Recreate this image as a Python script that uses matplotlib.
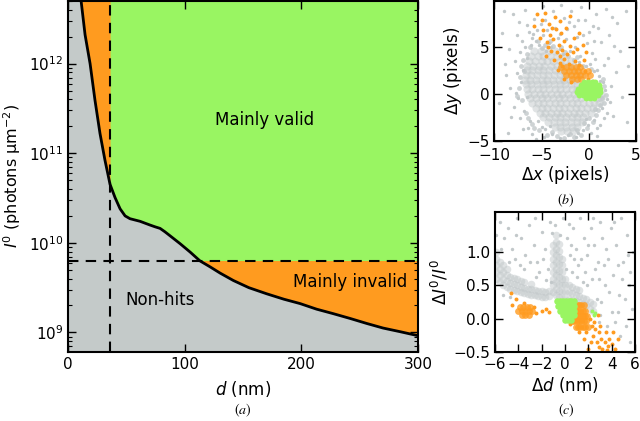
import numpy as np
import matplotlib
matplotlib.use("Agg")
import matplotlib.pyplot as plt

# ---------------- data ----------------
# panel (a): threshold curve I0(d)
d_nm = [10.5, 14.6, 18.9, 23.1, 27.4, 31.7, 36, 40.3, 44.6, 48.9, 53.1, 61.7, 70.3, 74.6,
        78.9, 83, 87.4, 96, 104.6, 113, 121.7, 130.3, 141.7, 155, 170.3, 185, 198.9, 213,
        227.4, 242, 256, 270, 284.6, 300]
I0 = [6.0e12, 2.1e12, 1.0e12, 3.9e11, 1.66e11, 8.3e10, 4.5e10, 3.2e10, 2.4e10, 2.0e10,
      1.86e10, 1.74e10, 1.58e10, 1.51e10, 1.45e10, 1.33e10, 1.2e10, 9.8e9, 7.9e9, 6.3e9,
      5.4e9, 4.6e9, 3.8e9, 3.16e9, 2.7e9, 2.35e9, 2.1e9, 1.82e9, 1.62e9, 1.43e9, 1.26e9,
      1.12e9, 1.02e9, 9.2e8]
d_cut = 36.0
I_cut = 6.35e9
region_labels = ["Mainly valid", "Mainly invalid", "Non-hits"]

# panel (b): position offsets (pixels); dense parts given as rows {y: [x, ...]}
b_gray_core_rows = {
    4.5: [-5.8, -5.1, -4.3, -3.6],
    4.0: [-6.1, -5.4, -4.8, -4.1, -3.4, -2.8],
    3.5: [-6.3, -5.7, -5.0, -4.4, -3.8, -3.1, -2.5, -1.9],
    3.0: [-6.5, -5.9, -5.3, -4.7, -4.0, -3.4, -2.8, -2.2, -1.6],
    2.5: [-6.6, -6.0, -5.4, -4.8, -4.2, -3.6, -3.0, -2.4, -1.8, -1.2],
    2.0: [-6.7, -6.1, -5.5, -4.9, -4.3, -3.7, -3.1, -2.5, -1.9, -1.3, -0.7],
    1.5: [-6.8, -6.2, -5.6, -5.0, -4.4, -3.8, -3.2, -2.6, -2.0, -1.4],
    1.0: [-6.7, -6.1, -5.5, -4.9, -4.3, -3.7, -3.1, -2.5, -1.9, -1.3],
    0.5: [-6.6, -6.0, -5.4, -4.8, -4.2, -3.6, -3.0, -2.4, -1.8, -1.2],
    0.0: [-6.4, -5.8, -5.2, -4.6, -4.0, -3.4, -2.8, -2.2, -1.6, 1.3],
    -0.5: [-6.2, -5.6, -5.0, -4.4, -3.8, -3.2, -2.6, -2.0, -1.4, -0.8, 0.9, 1.3],
    -1.0: [-6.0, -5.4, -4.8, -4.2, -3.6, -3.0, -2.4, -1.8, -1.2, -0.6, 0.0, 0.6, 1.1],
    -1.5: [-5.6, -5.0, -4.4, -3.8, -3.2, -2.6, -2.0, -1.4, -0.8, -0.2, 0.4],
    -2.0: [-5.2, -4.6, -4.0, -3.4, -2.8, -2.2, -1.6, -1.0, -0.4, 0.2],
    -2.5: [-4.8, -4.2, -3.6, -3.0, -2.4, -1.8, -1.2, -0.6],
    -3.0: [-4.3, -3.7, -3.1, -2.5, -1.9, -1.3, -0.7],
    -3.5: [-3.6, -3.0, -2.4, -1.8, -1.2],
    -4.0: [-2.9, -2.3, -1.7],
}
b_gray_halo = [(-7.2,3.0),(-7.3,1.8),(-7.4,0.6),(-7.1,-0.7),(-6.7,-2.0),(-6.0,-3.2),(-5.3,-3.9),
    (-4.4,-4.4),(-3.4,-4.5),(-2.6,-4.7),(-1.6,-4.6),(-0.8,-4.4),(-0.2,-3.6),(0.4,-3.0),(0.8,-2.3),
    (1.0,-1.7),(1.6,-1.0),(1.8,-0.1),(1.6,0.8),(1.5,1.6),(-6.6,4.2),(-6.2,5.0),(-5.4,5.6),(-4.6,5.2),
    (-3.8,5.1),(-2.9,5.0),(-2.2,4.0),(-1.3,3.9),(-0.6,3.0),(0.2,2.6),(-6.9,2.4),(-7.6,-0.2),
    (-5.8,-3.6),(-3.9,-4.1),(-2.0,-4.3),(-1.2,-3.9),(0.0,-2.6),(0.7,-1.6),(1.4,-0.5),(-5.0,4.9),
    (-2.5,4.4),(-7.0,3.6),(-6.4,-2.6),(-0.5,-3.1),(1.2,-1.2),(-1.6,3.6),(-4.1,5.6)]
b_gray_sparse = [(-9.2,6.5),(-8.5,4.8),(-8.8,2.0),(-9.5,-1.0),(-8.0,8.5),(-7.6,6.2),(-7.8,3.5),(-7.2,1.2),
    (-7.5,-0.5),(-8.2,-2.5),(-7.0,-3.8),(-6.8,8.9),(-6.5,7.3),(-6.8,5.0),(-6.6,3.8),(-7.0,2.5),(-6.9,-1.8),
    (-6.2,-2.9),(-6.0,-4.3),(-5.8,8.0),(-5.5,6.8),(-6.0,5.9),(-5.3,5.2),(-4.8,9.3),(-4.6,7.8),(-4.9,6.2),
    (-4.2,5.4),(-4.5,4.6),(-5.0,-3.5),(-4.7,-4.6),(-3.8,8.8),(-3.6,7.0),(-3.9,-4.3),(-2.9,9.4),(-2.6,8.1),
    (-3.0,6.4),(-2.4,5.8),(-2.0,4.6),(-2.7,4.2),(-3.1,-4.7),(-2.2,-4.4),(-1.9,8.8),(-1.6,7.2),(-1.2,6.0),
    (-1.5,5.0),(-0.9,4.0),(-1.4,-4.6),(-0.6,-3.9),(-0.8,9.2),(-0.4,7.9),(0.0,6.6),(-0.2,5.4),(0.3,4.3),
    (0.1,3.2),(0.5,-2.8),(0.2,-4.2),(0.8,8.5),(1.0,7.0),(1.3,5.5),(0.9,2.5),(1.5,1.2),(1.4,-1.5),(1.2,-3.3),
    (1.8,9.0),(2.1,6.2),(2.0,3.8),(2.4,0.8),(2.2,-0.9),(2.6,-2.4),(3.0,7.5),(3.3,4.5),(2.9,2.3),(3.5,-0.3),
    (3.9,8.8),(4.2,2.9),(4.0,-3.0),(-9.0,8.8),(-8.6,-4.2),(-5.6,-4.8),(-7.3,4.4),(-8.3,0.6),(-7.9,-1.4),
    (-6.3,6.6),(-5.1,7.4),(-3.3,5.9),(-2.3,6.9),(-0.6,6.3),(0.5,5.6),(1.6,3.1),(1.9,-2.0),(0.9,-4.5),
    (-7.4,7.6),(-8.9,3.2),(-6.4,-3.6),(-4.1,-3.4),(1.1,1.9),(0.7,3.7),(-1.1,-4.2),(2.7,5.1),
    (-7.1,5.6),(-7.7,0.1),(-7.3,-2.6),(-6.1,5.2),(-5.6,5.6),(-4.0,5.0),(-3.1,4.8),(-1.0,3.4),(-0.3,2.9),
    (0.6,2.4),(1.2,1.4),(1.7,0.4),(1.9,-0.6),(1.6,-2.6),(0.9,-3.6),(-0.1,-3.3),(-0.3,-2.7),(-4.6,-3.8),
    (-5.4,-2.9),(-6.6,-0.4),(-7.6,2.2),(-5.9,6.4),(-4.4,6.8),(-2.1,7.6),(-1.1,7.9),(0.4,7.2),(2.5,8.2)]
b_orange_rows = {
    2.8: [-2.9, -2.4, -1.9, -1.4, -0.9],
    2.4: [-2.6, -2.1, -1.6, -1.1, -0.6, -0.1],
    2.0: [-2.4, -1.9, -1.4, -0.9, -0.4, 0.1],
    1.6: [-1.8, -1.3, -0.8],
}
b_orange = [(-5.5,8.5),(-5.0,7.9),(-4.6,8.6),(-4.2,7.4),(-3.6,8.2),(-3.1,7.7),(-4.8,6.8),(-4.1,6.3),
    (-3.5,6.9),(-2.9,6.5),(-2.4,7.0),(-5.2,5.9),(-4.4,5.5),(-3.8,5.8),(-3.2,5.2),(-2.6,5.6),(-2.0,5.1),
    (-1.6,5.9),(-4.0,4.6),(-3.4,4.4),(-2.8,4.7),(-2.3,4.2),(-1.7,4.4),(-1.2,4.8),(-3.7,3.6),(-3.1,3.3),
    (-2.6,3.7),(-2.1,3.2),(-1.5,3.5),(-1.0,3.1),(-0.5,3.6),(-3.3,2.5),(-0.4,2.4),(-2.6,1.6),
    (-0.1,1.6),(0.4,1.4),(-1.9,1.2),(0.7,1.2),(-4.5,4.0),(-5.8,7.2),(-1.0,6.5),(-0.6,5.2),
    (-0.3,4.4),(-2.0,8.3),(-2.8,2.9),(-3.0,4.0),(-4.3,5.0),(-3.9,7.0)]
b_green_rows = {
    1.25: [-0.5, -0.1, 0.3, 0.7],
    0.9: [-0.8, -0.4, 0.0, 0.4, 0.8, 1.1],
    0.55: [-1.1, -0.7, -0.3, 0.1, 0.5, 0.9, 1.2],
    0.2: [-1.2, -0.8, -0.4, 0.0, 0.4, 0.8, 1.2],
    -0.15: [-1.0, -0.6, -0.2, 0.2, 0.6, 1.0],
    -0.5: [-0.3, 0.1, 0.5],
}

# panel (c): size / intensity errors; dense parts given as columns {x: [y, ...]}
c_gray_core_cols = {
    -5.9: [0.6, 0.7, 0.8, 0.9, 1.0], -5.6: [0.55, 0.65, 0.75, 0.85], -5.3: [0.5, 0.6, 0.7, 0.8],
    -5.0: [0.48, 0.57, 0.66, 0.75], -4.7: [0.45, 0.54, 0.63], -4.4: [0.43, 0.52, 0.61],
    -4.1: [0.41, 0.5, 0.59], -3.8: [0.4, 0.48, 0.57], -3.5: [0.38, 0.46, 0.55], -3.2: [0.37, 0.45],
    -2.9: [0.36, 0.44, 0.52], -2.6: [0.35, 0.43], -2.3: [0.34, 0.42], -2.0: [0.33, 0.41],
    -1.7: [0.33, 0.4], -1.4: [0.34, 0.42],
    -1.0: [0.4, 0.5, 0.6, 0.7, 0.8, 0.9, 1.0, 1.1],
    -0.75: [0.35, 0.45, 0.55, 0.65, 0.75, 0.85, 0.95, 1.05, 1.15, 1.25],
    -0.5: [0.32, 0.42, 0.52, 0.62, 0.72, 0.82, 0.92, 1.02, 1.12],
    -0.25: [0.3, 0.4, 0.5, 0.6, 0.7, 0.8, 0.9], 0.0: [0.3, 0.4, 0.5, 0.6],
    0.3: [0.3, 0.4, 0.5], 0.6: [0.28, 0.38, 0.48], 0.9: [0.27, 0.36, 0.45], 1.2: [0.25, 0.34, 0.43],
    1.5: [0.22, 0.31], 1.8: [0.2, 0.29], 2.1: [0.15, 0.25], 2.4: [0.12, 0.22],
}
c_gray_sparse = [(-5.6,1.45),(-5.2,1.2),(-4.9,1.35),(-4.5,1.05),(-4.1,1.5),(-3.8,1.2),(-3.4,0.95),
    (-3.1,1.4),(-2.7,1.1),(-2.4,0.85),(-2.0,1.3),(-1.7,1.05),(-1.5,0.75),(-1.3,1.45),(-5.3,0.35),
    (-4.7,0.32),(-4.3,0.9),(-3.5,0.75),(-2.2,0.7),(-1.2,0.55),(-0.2,1.5),(0.2,1.2),(0.4,0.95),(0.1,0.75),
    (0.7,1.35),(0.9,1.05),(1.1,0.8),(1.3,1.5),(1.6,1.2),(1.9,0.95),(1.7,0.7),(2.2,1.35),(2.5,1.1),
    (2.3,0.6),(2.8,0.85),(3.0,1.45),(3.2,1.2),(3.4,0.5),(3.1,0.25),(3.7,0.9),(3.9,1.35),(4.1,0.65),
    (4.4,1.1),(4.6,0.35),(4.8,1.5),(5.0,0.85),(5.3,1.25),(5.5,0.5),(5.7,0.15),(5.2,-0.1),(4.7,-0.25),
    (5.8,1.0),(4.0,0.1),(3.6,-0.1),(2.7,0.3),(1.4,0.9),(0.6,0.7),(-0.9,1.4),(-2.6,1.5),(-4.2,1.25),
    (-5.9,1.25),(4.3,-0.05),(5.6,-0.35),(2.9,-0.05),(-0.4,1.25),(0.3,1.42),(1.9,0.5),(2.6,0.75),
    (3.5,1.05),(4.9,0.6),(5.4,0.95),(-3.0,0.85),(-1.9,0.9),(-4.8,0.85),(-5.5,1.05),(-3.9,0.8),
    (-2.5,0.62),(-1.6,0.58),(-1.1,1.28),(0.5,1.1),(1.0,0.62),(1.5,0.55),(2.0,1.1),(2.4,1.5),(2.9,0.6),
    (3.3,0.8),(3.8,0.4),(4.2,1.45),(4.5,0.8),(5.1,0.3),(5.6,0.7),(3.0,0.05),(4.5,0.1),(0.8,0.9)]
c_orange_rows = {
    0.2: [0.8, 1.0, 1.2, 1.4, 1.6],
    0.12: [0.7, 0.9, 1.1, 1.3, 1.5, 1.7],
    0.04: [0.7, 0.9, 1.1, 1.3, 1.5, 1.7, 1.9],
    -0.04: [0.6, 0.8, 1.0, 1.2, 1.4, 1.6, 1.8],
    -0.12: [0.9, 1.1, 1.3, 1.5, 1.7, 2.0],
    0.18: [-3.9, -3.6, -3.3, -3.0],
    0.11: [-4.0, -3.7, -3.4, -3.1, -2.8],
    0.05: [-3.7, -3.4, -3.1],
}
c_orange = [(-4.2,0.3),(-4.5,0.2),(-2.5,0.08),(-2.0,0.12),(-1.6,0.15),(-1.4,0.1),(-4.6,0.38),
    (-3.5,0.23),(-2.7,0.17),(1.2,-0.2),(2.1,0.0),(2.3,-0.1),(1.8,-0.2),
    (2.6,-0.15),(2.4,-0.25),(2.9,-0.2),(3.1,-0.3),(2.7,-0.35),(3.4,-0.35),(3.7,-0.4),(4.0,-0.38),
    (4.3,-0.45),(3.2,-0.45),(2.2,-0.35),(3.8,-0.3),(4.5,-0.3),(2.0,-0.45),(3.5,-0.2),(2.8,0.05),
    (0.4,-0.08),(2.5,-0.05),(3.0,-0.1),(1.6,-0.3),(4.1,-0.2),(2.9,-0.42),(3.6,-0.47)]
c_green_rows = {
    0.26: [-0.7, -0.45, -0.2, 0.05, 0.3, 0.55, 0.75],
    0.19: [-0.6, -0.35, -0.1, 0.15, 0.4, 0.65, 0.8],
    0.12: [-0.4, -0.15, 0.1, 0.35, 0.6, 0.8],
    0.05: [-0.2, 0.05, 0.3, 0.55, 0.75],
    -0.02: [0.0, 0.25, 0.5],
}
c_green = [(2.3, 0.12), (2.6, 0.08), (2.45, 0.05)]

# ---------------- helpers ----------------
def rows_xy(rows):
    return [(x, y) for y, xs in rows.items() for x in xs]

def cols_xy(cols):
    return [(x, y) for x, ys in cols.items() for y in ys]

# ---------------- style ----------------
GRAY_BG = "#c4cac9"
GREEN = "#99f562"
ORANGE = "#ff9b1f"
PT_GRAY = "#c2c8ca"

plt.rcParams["font.family"] = ["DejaVu Sans"]
plt.rcParams["mathtext.fontset"] = "dejavusans"

fig = plt.figure(figsize=(6.4, 4.21), dpi=100)

def style_axes(ax):
    for s in ax.spines.values():
        s.set_linewidth(1.5)
    ax.tick_params(which="both", direction="in", top=True, right=True, labelsize=11)
    ax.tick_params(which="major", length=6, width=1)
    ax.tick_params(which="minor", length=3, width=0.8)

# ---- panel (a)
ax = fig.add_axes([0.1063, 0.1646, 0.547, 0.833])
d = np.array(d_nm)
I = np.array(I0)
ymin, ymax = 6.1e8, 5.0e12
ax.set_facecolor(GRAY_BG)
ax.fill_between(d, I, ymax, color=ORANGE, lw=0)
m = d >= d_cut
ax.fill_between(d[m], np.maximum(I[m], I_cut), ymax, color=GREEN, lw=0)
ax.plot(d, I, color="black", lw=2)
ax.axvline(d_cut, color="black", ls=(0, (5, 3.5)), lw=1.5)
ax.axhline(I_cut, color="black", ls=(0, (5, 3.5)), lw=1.5)
ax.set_yscale("log")
ax.set_xlim(0, 300)
ax.set_ylim(ymin, ymax)
ax.set_xticks([0, 100, 200, 300])
style_axes(ax)
ax.set_xlabel(r"$d$ (nm)", fontsize=12, labelpad=5)
ax.set_ylabel(r"$I^0$ (photons μm$^{-2}$)", fontsize=11.5, labelpad=4)
ax.text(168, 10**11.37, region_labels[0], fontsize=12, ha="center", va="center")
ax.text(242, 10**9.56, region_labels[1], fontsize=12, ha="center", va="center")
ax.text(79, 10**9.36, region_labels[2], fontsize=12, ha="center", va="center")

# ---- panel (b)
axb = fig.add_axes([0.7725, 0.6658, 0.2213, 0.3325])
for pts, col, s, al in [(b_gray_sparse, PT_GRAY, 6, 1.0),
                        (b_gray_halo, PT_GRAY, 12, 0.8),
                        (rows_xy(b_gray_core_rows), PT_GRAY, 34, 0.5),
                        (b_orange, ORANGE, 8, 1.0), (rows_xy(b_orange_rows), ORANGE, 24, 0.75),
                        (rows_xy(b_green_rows), GREEN, 18, 1.0)]:
    a = np.array(pts)
    axb.scatter(a[:, 0], a[:, 1], s=s, c=col, alpha=al, linewidths=0)
axb.set_xlim(-10, 5)
axb.set_ylim(-5, 9.9)
axb.set_xticks([-10, -5, 0, 5])
axb.set_yticks([-5, 0, 5])
style_axes(axb)
axb.tick_params(axis="x", pad=5)
axb.set_xlabel(r"$\Delta x$ (pixels)", fontsize=12, labelpad=1)
axb.set_ylabel(r"$\Delta y$ (pixels)", fontsize=12, labelpad=2)

# ---- panel (c)
axc = fig.add_axes([0.7734, 0.1632, 0.219, 0.334])
for pts, col, s, al in [(c_gray_sparse, PT_GRAY, 6, 1.0),
                        (cols_xy(c_gray_core_cols), PT_GRAY, 30, 0.5),
                        (c_orange, ORANGE, 8, 1.0), (rows_xy(c_orange_rows), ORANGE, 24, 0.8),
                        (rows_xy(c_green_rows), GREEN, 22, 1.0), (c_green, GREEN, 8, 1.0)]:
    a = np.array(pts)
    axc.scatter(a[:, 0], a[:, 1], s=s, c=col, alpha=al, linewidths=0)
axc.set_xlim(-6, 6)
axc.set_ylim(-0.5, 1.6)
axc.set_xticks([-6, -4, -2, 0, 2, 4, 6])
axc.set_yticks([-0.5, 0.0, 0.5, 1.0])
style_axes(axc)
axc.set_xlabel(r"$\Delta d$ (nm)", fontsize=12, labelpad=2)
axc.set_ylabel(r"$\Delta I^0/I^0$", fontsize=12, labelpad=2)

# captions
for x, y, t in [(243, 410, "(a)"), (566, 200, "(b)"), (566, 410, "(c)")]:
    fig.text(x / 640, 1 - y / 421, "$" + t + "$", ha="center", va="center",
             fontsize=10, math_fontfamily="stix")

fig.savefig("out.png", dpi=100)
